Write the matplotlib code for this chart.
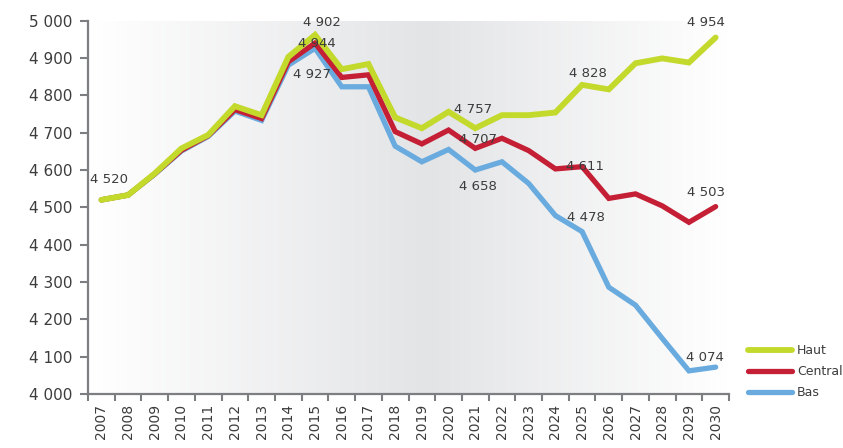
import numpy as np
import matplotlib.pyplot as plt
from matplotlib.colors import LinearSegmentedColormap

years = list(range(2007, 2031))

haut = [4520, 4533, 4591, 4658, 4694, 4771, 4747, 4903, 4962, 4870, 4884, 4741,
        4712, 4756, 4712, 4747, 4747, 4754, 4828, 4816, 4886, 4899, 4888, 4955]
central = [4520, 4533, 4590, 4653, 4692, 4762, 4738, 4890, 4940, 4848, 4855, 4703,
           4670, 4707, 4658, 4685, 4652, 4603, 4609, 4524, 4536, 4504, 4460, 4502]
bas = [4520, 4533, 4589, 4651, 4690, 4758, 4733, 4881, 4926, 4823, 4823, 4664,
       4622, 4655, 4600, 4622, 4564, 4478, 4435, 4286, 4238, 4149, 4062, 4072]

# (series, year, text, dx px, dy px)
labels = [
    ("haut", 2007, "4 520", 8, 20),
    ("haut", 2015, "4 902", 7, 12),
    ("central", 2015, "4 944", 2, 0),
    ("bas", 2015, "4 927", -3, -26),
    ("haut", 2020, "4 757", 24, 2),
    ("central", 2020, "4 707", 29, -9),
    ("bas", 2020, "4 658", 29, -37),
    ("haut", 2025, "4 828", 6, 11),
    ("central", 2025, "4 611", 3, 0),
    ("bas", 2025, "4 478", 4, 14),
    ("haut", 2030, "4 954", -10, 15),
    ("central", 2030, "4 503", -10, 14),
    ("bas", 2030, "4 074", -11, 10),
]

c_haut = "#c3d92b"
c_central = "#c41f35"
c_bas = "#69abde"
grey = "#7d7e82"
txt = "#3c3c3c"

fig = plt.figure(figsize=(8.43, 4.48), dpi=100)
ax = fig.add_axes([88 / 843, 54 / 448, 641 / 843, 373.3 / 448])

x = np.arange(len(years))

# background gradient, white -> grey -> white
cmap = LinearSegmentedColormap.from_list(
    "bg", [(0, "#ffffff"), (0.53, "#e3e4e6"), (1, "#ffffff")])
grad = np.linspace(0, 1, 400).reshape(1, -1)
ax.imshow(grad, cmap=cmap, aspect="auto", extent=(-0.5, len(years) - 0.5, 4000, 5000),
          zorder=0)

series = {"haut": haut, "central": central, "bas": bas}
ax.plot(x, bas, color=c_bas, lw=3.8, solid_capstyle="round", solid_joinstyle="miter", label="Bas", zorder=2)
ax.plot(x, central, color=c_central, lw=3.8, solid_capstyle="round", solid_joinstyle="miter", label="Central", zorder=3)
ax.plot(x, haut, color=c_haut, lw=4.2, solid_capstyle="round", solid_joinstyle="miter", label="Haut", zorder=4)

for name, yr, t, dx, dy in labels:
    i = years.index(yr)
    ax.annotate(t, (i, series[name][i]), xytext=(dx, dy), textcoords="offset pixels",
                ha="center", va="center", fontsize=9.5, color=txt, zorder=5)

ax.set_xlim(-0.5, len(years) - 0.5)
ax.set_ylim(4000, 5000)

ax.set_xticks(x)
ax.set_xticklabels([str(y) for y in years], rotation=90, fontsize=10, color=txt)
ax.set_xticks(np.arange(-0.5, len(years)), minor=True)
ax.tick_params(axis="x", which="major", length=0, pad=7)
ax.tick_params(axis="x", which="minor", length=5, width=1.5, color=grey)

yt = np.arange(4000, 5001, 100)
ax.set_yticks(yt)
ax.set_yticklabels([f"{v:,}".replace(",", " ") for v in yt], fontsize=11, color=txt)
ax.tick_params(axis="y", length=6, width=1.5, color=grey, pad=5)

for s in ["top", "right"]:
    ax.spines[s].set_visible(False)
for s in ["left", "bottom"]:
    ax.spines[s].set_color(grey)
    ax.spines[s].set_linewidth(1.6)

h, l = ax.get_legend_handles_labels()
fig.legend(h[::-1], l[::-1], loc="upper left", bbox_to_anchor=(748 / 843, 1 - 344 / 448),
           frameon=False, fontsize=9, handlelength=3.5, labelspacing=0.65,
           handletextpad=0.4, borderpad=0, borderaxespad=0, labelcolor=txt)

fig.savefig("out.png", dpi=100)
